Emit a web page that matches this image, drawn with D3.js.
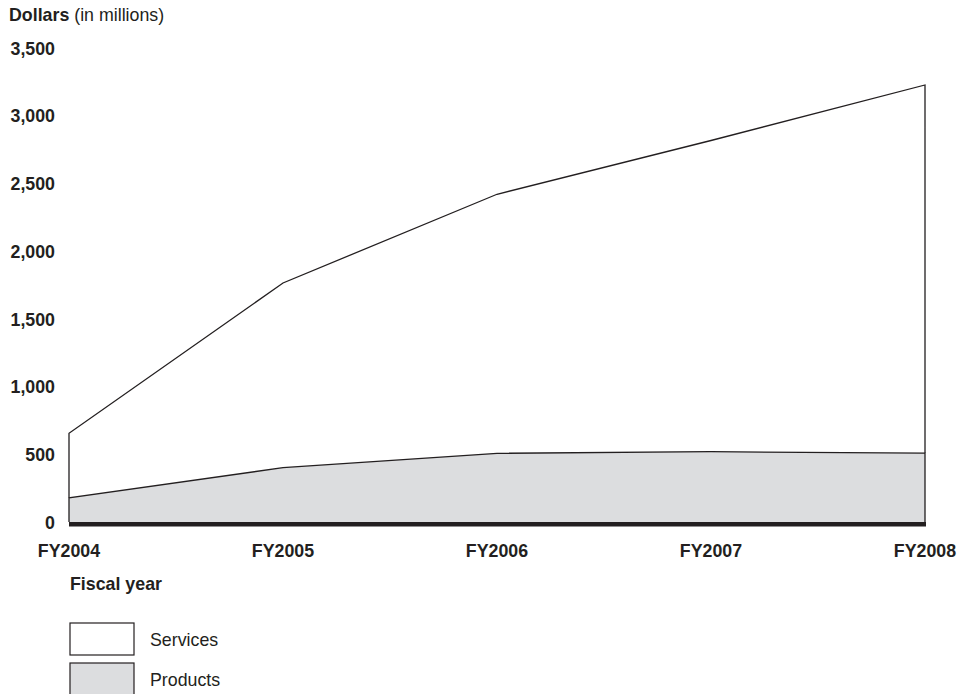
<!DOCTYPE html>
<html>
<head>
    <meta charset="utf-8">
    <style>
        body {
            margin: 0;
            background: #fff;
        }

        svg {
            font-family: 'Liberation Sans', Arial, sans-serif;
        }
    </style>
</head>
<body>
    <svg width="972" height="694"></svg>

<script src="https://d3js.org/d3.v7.min.js"></script>
<script>
    // values (millions of dollars)
    let years = ["FY2004", "FY2005", "FY2006", "FY2007", "FY2008"]
    let products = [179, 401, 507, 519, 509]
    let services = [476, 1364, 1913, 2298, 2718]
    let yTicks = [0, 500, 1000, 1500, 2000, 2500, 3000, 3500]

    let rows = years.map((yr, i) => ({ year: yr, Products: products[i], Services: services[i] }))

    let svg = d3.select("svg")
    let ink = "#231f20"
    let fontSize = 17.8

    let x = d3.scalePoint()
        .domain(years)
        .range([69, 925])

    let y = d3.scaleLinear()
        .domain([0, 3500])
        .range([522, 48])

    let stack = d3.stack().keys(["Products", "Services"])
    let layers = stack(rows)

    let fills = { Products: "#dcdddf", Services: "#ffffff" }

    let area = d3.area()
        .x(d => x(d.data.year))
        .y0(d => y(d[0]))
        .y1(d => y(d[1]))

    svg.append("g")
        .selectAll("path")
        .data(layers)
        .join("path")
        .attr("d", area)
        .attr("fill", d => fills[d.key])
        .attr("stroke", "none")

    // outline: top line plus the two vertical ends
    let outline = d3.line()
        .x(d => d[0])
        .y(d => d[1])

    layers.forEach(layer => {
        let pts = layer.map(d => [x(d.data.year), y(d[1])])
        let first = layer[0], last = layer[layer.length - 1]
        pts.unshift([x(first.data.year), y(first[0])])
        pts.push([x(last.data.year), y(last[0])])
        svg.append("path")
            .attr("d", outline(pts))
            .attr("fill", "none")
            .attr("stroke", ink)
            .attr("stroke-width", 1.3)
    })

    // heavy baseline
    svg.append("line")
        .attr("x1", x.range()[0])
        .attr("x2", x.range()[1] + 1)
        .attr("y1", y(0) + 2.2)
        .attr("y2", y(0) + 2.2)
        .attr("stroke", ink)
        .attr("stroke-width", 4.5)

    // y tick labels
    svg.append("g")
        .selectAll("text")
        .data(yTicks)
        .join("text")
        .attr("x", 55)
        .attr("y", d => y(d) + 2)
        .attr("text-anchor", "end")
        .attr("dominant-baseline", "middle")
        .attr("font-weight", "bold")
        .attr("font-size", fontSize)
        .attr("fill", ink)
        .text(d => d3.format(",")(d))

    // x labels
    svg.append("g")
        .selectAll("text")
        .data(years)
        .join("text")
        .attr("x", d => x(d))
        .attr("y", 557)
        .attr("text-anchor", "middle")
        .attr("font-weight", "bold")
        .attr("font-size", fontSize)
        .attr("fill", ink)
        .text(d => d)

    // axis titles
    let yTitle = svg.append("text")
        .attr("x", 9)
        .attr("y", 21)
        .attr("font-size", fontSize)
        .attr("fill", ink)
    yTitle.append("tspan").attr("font-weight", "bold").text("Dollars")
    yTitle.append("tspan").text(" (in millions)")

    svg.append("text")
        .attr("x", 70)
        .attr("y", 590)
        .attr("font-size", fontSize)
        .attr("font-weight", "bold")
        .attr("fill", ink)
        .text("Fiscal year")

    // legend
    let legendKeys = ["Services", "Products"]
    let legend = svg.append("g")
        .selectAll("g")
        .data(legendKeys)
        .join("g")
        .attr("transform", (d, i) => `translate(70, ${623 + i * 40})`)

    legend.append("rect")
        .attr("width", 64)
        .attr("height", 32)
        .attr("fill", d => fills[d])
        .attr("stroke", ink)
        .attr("stroke-width", 1.2)

    legend.append("text")
        .attr("x", 80)
        .attr("y", 18)
        .attr("dominant-baseline", "middle")
        .attr("font-size", fontSize)
        .attr("fill", ink)
        .text(d => d)
</script>
</body>
</html>
